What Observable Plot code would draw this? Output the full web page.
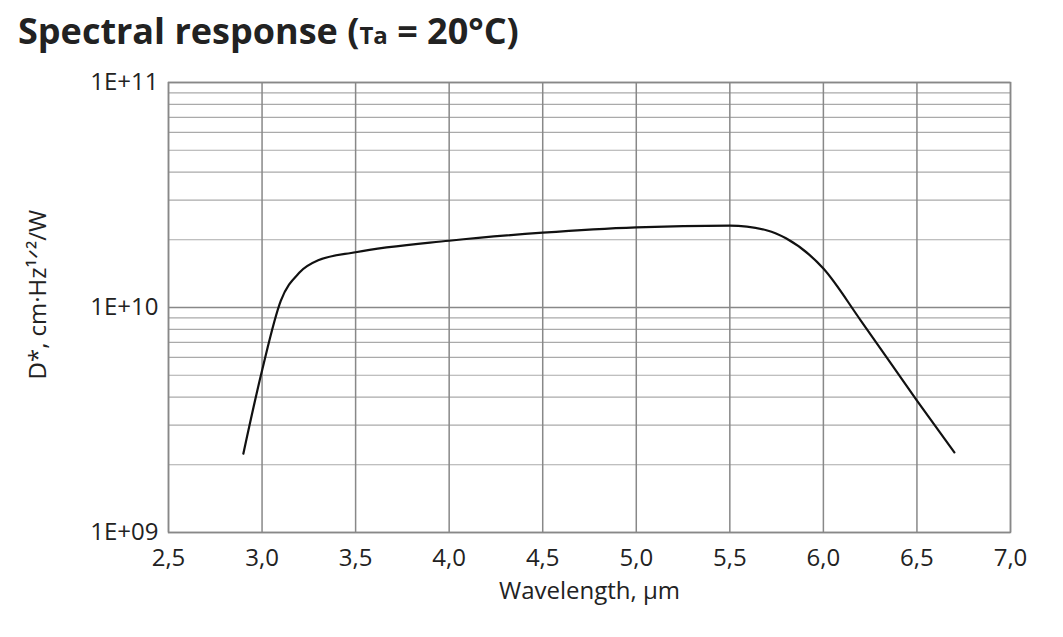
<!DOCTYPE html>
<html><head><meta charset="utf-8">
<script src="https://cdn.jsdelivr.net/npm/d3@7"></script>
<script src="https://cdn.jsdelivr.net/npm/@observablehq/plot@0.6"></script>
<style>
body{margin:0;background:#fff;font-family:"Open Sans",sans-serif;}
#title{height:50px;box-sizing:border-box;padding:8px 0 0 18px;font-size:36px;font-weight:bold;color:#222;line-height:46px;}
#title .s{font-size:24px;}
</style></head><body>
<div id="title">Spectral response (<span class="s">Ta</span> = 20°C)</div>
<div id="chart"></div>
<script>
const wavelength = [2.9, 3.0, 3.1, 3.2, 3.3, 3.5, 4.0, 4.5, 5.0, 5.5, 5.7, 5.8, 6.0, 6.2, 6.5, 6.7];
const dstar = [2.24e9, 5.25e9, 1.07e10, 1.43e10, 1.62e10, 1.76e10, 1.98e10, 2.15e10, 2.27e10, 2.31e10, 2.2e10, 2.03e10, 1.49e10, 8.75e9, 3.86e9, 2.27e9];
const xTicks = [2.5, 3.0, 3.5, 4.0, 4.5, 5.0, 5.5, 6.0, 6.5, 7.0];
const yTicks = [1e9, 1e10, 1e11];
const yMinor = [];
for (const d of [1e9, 1e10]) for (let k = 2; k <= 9; k++) yMinor.push(k * d);
const data = wavelength.map((x, i) => ({x, y: dstar[i]}));
const xFmt = d => d.toFixed(1).replace(".", ",");
const yFmt = d => "1E+" + String(Math.round(Math.log10(d))).padStart(2, "0");
const chart = Plot.plot({
  width: 1063, height: 587,
  marginLeft: 168, marginRight: 53, marginTop: 32, marginBottom: 105,
  style: {fontFamily: "Open Sans, sans-serif", fontSize: "24px", color: "#222"},
  x: {domain: [2.5, 7.0]},
  y: {type: "log", domain: [1e9, 1e11]},
  marks: [
    Plot.ruleY(yMinor, {stroke: "#aaa", strokeWidth: 1.2}),
    Plot.ruleY(yTicks, {stroke: "#888", strokeWidth: 1.5}),
    Plot.ruleX(xTicks, {stroke: "#888", strokeWidth: 1.5}),
    Plot.frame({stroke: "#888", strokeWidth: 1.5}),
    Plot.line(data, {x: "x", y: "y", curve: "monotone-x", stroke: "#111", strokeWidth: 2.2}),
    Plot.axisX({ticks: xTicks, tickFormat: xFmt, tickSize: 0, tickPadding: 16, label: "Wavelength, μm", labelArrow: "none", labelAnchor: "center", labelOffset: 66}),
    Plot.axisY({ticks: yTicks, tickFormat: yFmt, tickSize: 0, tickPadding: 10, label: null}),
    Plot.text(["D*, cm·Hz¹ᐟ²/W"], {frameAnchor: "left", dx: -130, dy: 72, rotate: -90, fontSize: 24, fill: "#222"})
  ]
});
document.getElementById("chart").appendChild(chart);
</script>
</body></html>
